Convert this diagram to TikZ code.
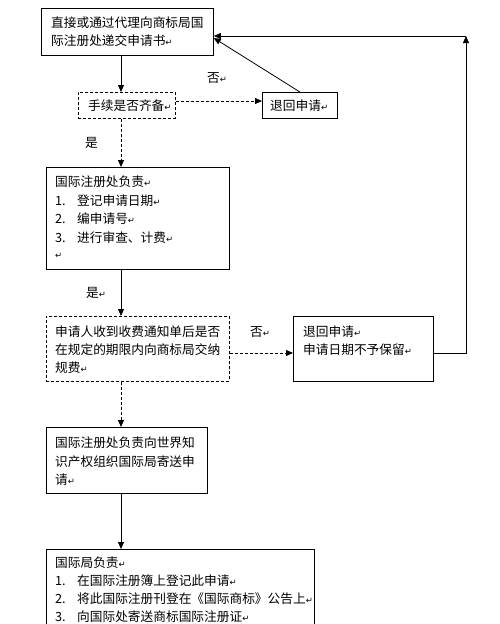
\documentclass[tikz,border=0pt]{standalone}
\usepackage{fontspec}
\setmainfont{Noto Sans CJK SC}
\newfontfamily\djv{DejaVu Sans}
\usetikzlibrary{arrows.meta}
\newcommand{\pmk}{{\djv\fontsize{8.5}{8.5}\selectfont\char"21B5}}
\newcommand{\numi}[1]{\makebox[22pt][l]{#1}}
\begin{document}
\begin{tikzpicture}[x=1pt,y=-1pt,
  box/.style={draw=black,line width=0.8pt,rectangle,inner sep=0pt,anchor=north west},
  dbox/.style={box,dash pattern=on 3pt off 2pt},
  txt/.style={anchor=west,inner sep=0pt,font=\fontsize{12.7}{15}\selectfont,text=black},
  ln/.style={line width=0.8pt,draw=black},
  arr/.style={ln,-{Triangle[length=7pt,width=6pt]}},
  darr/.style={arr,dash pattern=on 3pt off 2pt}]
\useasboundingbox (0,0) rectangle (500,624);
\clip (0,0) rectangle (500,624);
% boxes
\node[box,minimum width=172pt,minimum height=47pt] (b1) at (41,8) {};
\node[dbox,minimum width=97pt,minimum height=26pt] (b2) at (78,92) {};
\node[box,minimum width=75pt,minimum height=26pt] (b3) at (262,92) {};
\node[box,minimum width=183pt,minimum height=102pt] (b4) at (46,167) {};
\node[dbox,minimum width=183pt,minimum height=65pt] (b5) at (46,316) {};
\node[box,minimum width=140pt,minimum height=65pt] (b6) at (293,316) {};
\node[box,minimum width=161pt,minimum height=66pt] (b7) at (46,427) {};
\node[box,minimum width=268pt,minimum height=90pt] (b8) at (46,549) {};
% texts
\node[txt] (t11) at (51,23) {直接或通过代理向商标局国};
\node[txt] (t12) at (51,41) {际注册处递交申请书\pmk};
\node[txt] (t2) at (88,106) {手续是否齐备\pmk};
\node[txt] (t3) at (270,106) {退回申请\pmk};
\node[txt] (t41) at (55,182) {国际注册处负责\pmk};
\node[txt] (t42) at (55,201) {\numi{1.}登记申请日期\pmk};
\node[txt] (t43) at (55,219) {\numi{2.}编申请号\pmk};
\node[txt] (t44) at (55,238) {\numi{3.}进行审查、计费\pmk};
\node[txt] (t45) at (55,256) {\pmk};
\node[txt] (t51) at (55,332) {申请人收到收费通知单后是否};
\node[txt] (t52) at (55,350) {在规定的期限内向商标局交纳};
\node[txt] (t53) at (55,368) {规费\pmk};
\node[txt] (t61) at (303,332) {退回申请\pmk};
\node[txt] (t62) at (303,350) {申请日期不予保留\pmk};
\node[txt] (t71) at (55,443) {国际注册处负责向世界知};
\node[txt] (t72) at (55,462) {识产权组织国际局寄送申};
\node[txt] (t73) at (55,480) {请\pmk};
\node[txt] (t81) at (55,563) {国际局负责\pmk};
\node[txt] (t82) at (55,581) {\numi{1.}在国际注册簿上登记此申请\pmk};
\node[txt] (t83) at (55,599) {\numi{2.}将此国际注册刊登在《国际商标》公告上\pmk};
\node[txt] (t84) at (55,616.5) {\numi{3.}向国际处寄送商标国际注册证\pmk};
% labels
\node[txt] (l1) at (207,78) {否\pmk};
\node[txt] (l2) at (85,143) {是};
\node[txt] (l3) at (86,293) {是\pmk};
\node[txt] (l4) at (250,332) {否\pmk};
% helper coordinates
\coordinate (ax) at (121,0);
\coordinate (ay1) at (0,101);
\coordinate (ay2) at (0,353);
\coordinate (ay3) at (0,38);
\coordinate (ay4) at (0,36);
\coordinate (rx) at (466,0);
\coordinate (corner) at (466,36);
% connectors
\draw[arr] (b1.south -| ax) -- (b2.north -| ax);
\draw[darr] (b2.east |- ay1) -- (b3.west |- ay1);
\draw[arr] (b3.north) -- (b1.east |- ay3);
\draw[darr] (b2.south -| ax) -- (b4.north -| ax);
\draw[arr] (b4.south -| ax) -- (b5.north -| ax);
\draw[darr] (b5.east |- ay2) -- (b6.west |- ay2);
\draw[arr] (b6.east |- ay2) -- (rx |- ay2) -- (corner);
\draw[arr] (corner) -- (b1.east |- ay4);
\draw[darr] (b5.south -| ax) -- (b7.north -| ax);
\draw[arr] (b7.south -| ax) -- (b8.north -| ax);
\end{tikzpicture}
\end{document}
